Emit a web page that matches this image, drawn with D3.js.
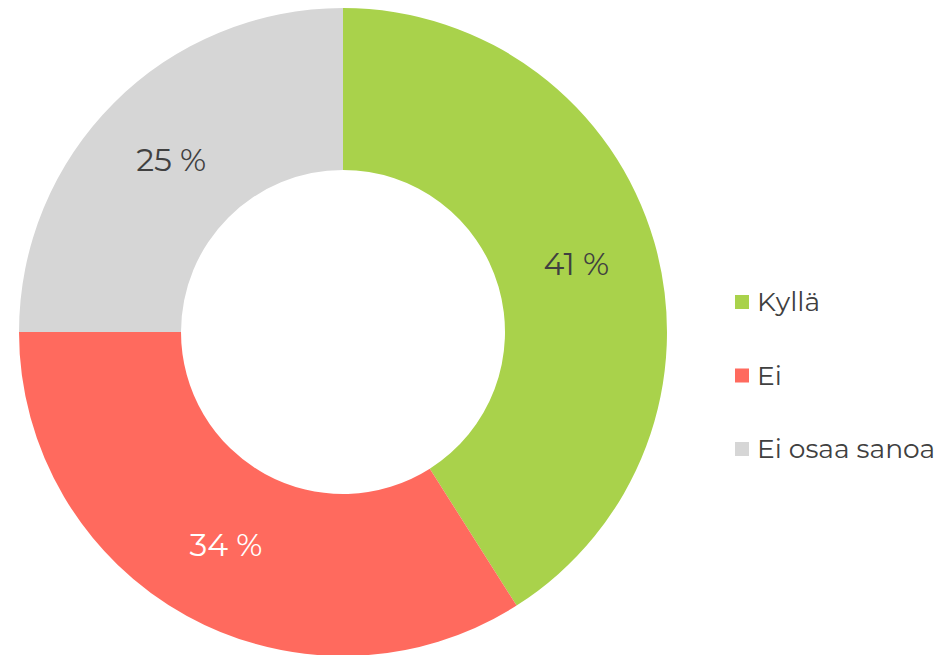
<!DOCTYPE html>
<html>
<head>
<meta charset="utf-8">
<script src="https://cdn.jsdelivr.net/npm/d3@7"></script>
<style>
  body { margin: 0; background: #fff; }
  text { font-family: "Montserrat", "DejaVu Sans", sans-serif; }
</style>
</head>
<body>
<div id="chart"></div>
<script>
const categories = ["Kyllä", "Ei", "Ei osaa sanoa"];
const values = [41, 34, 25];
const colors = ["#a9d24b", "#ff6a5e", "#d6d6d6"];
const labelColors = ["#404040", "#ffffff", "#404040"];

const width = 938, height = 655;
const cx = 343, cy = 332;
const outerR = 324, innerR = 162;

const svg = d3.select("#chart")
  .append("svg")
  .attr("width", width)
  .attr("height", height);

const g = svg.append("g")
  .attr("transform", `translate(${cx},${cy})`);

const pie = d3.pie().sort(null).value(d => d.value);
const arc = d3.arc().innerRadius(innerR).outerRadius(outerR);

const data = categories.map((c, i) => ({ name: c, value: values[i], i }));

const arcs = pie(data);

g.selectAll("path")
  .data(arcs)
  .enter()
  .append("path")
  .attr("d", arc)
  .attr("fill", d => colors[d.data.i]);

g.selectAll("text.lbl")
  .data(arcs)
  .enter()
  .append("text")
  .attr("class", "lbl")
  .attr("transform", d => `translate(${arc.centroid(d)})`)
  .attr("text-anchor", "middle")
  .attr("dy", "0.35em")
  .attr("font-size", 31.5)
  .attr("fill", d => labelColors[d.data.i])
  .text(d => d.data.value + " %");

// legend
const legend = svg.append("g")
  .attr("transform", "translate(735,302)");

const rows = legend.selectAll("g")
  .data(data)
  .enter()
  .append("g")
  .attr("transform", (d, i) => `translate(0,${i * 73.5})`);

rows.append("rect")
  .attr("x", 0)
  .attr("y", -7)
  .attr("width", 14)
  .attr("height", 14)
  .attr("fill", d => colors[d.i]);

rows.append("text")
  .attr("x", 22)
  .attr("dy", "0.35em")
  .attr("font-size", 26.5)
  .attr("fill", "#404040")
  .text(d => d.name);
</script>
</body>
</html>
